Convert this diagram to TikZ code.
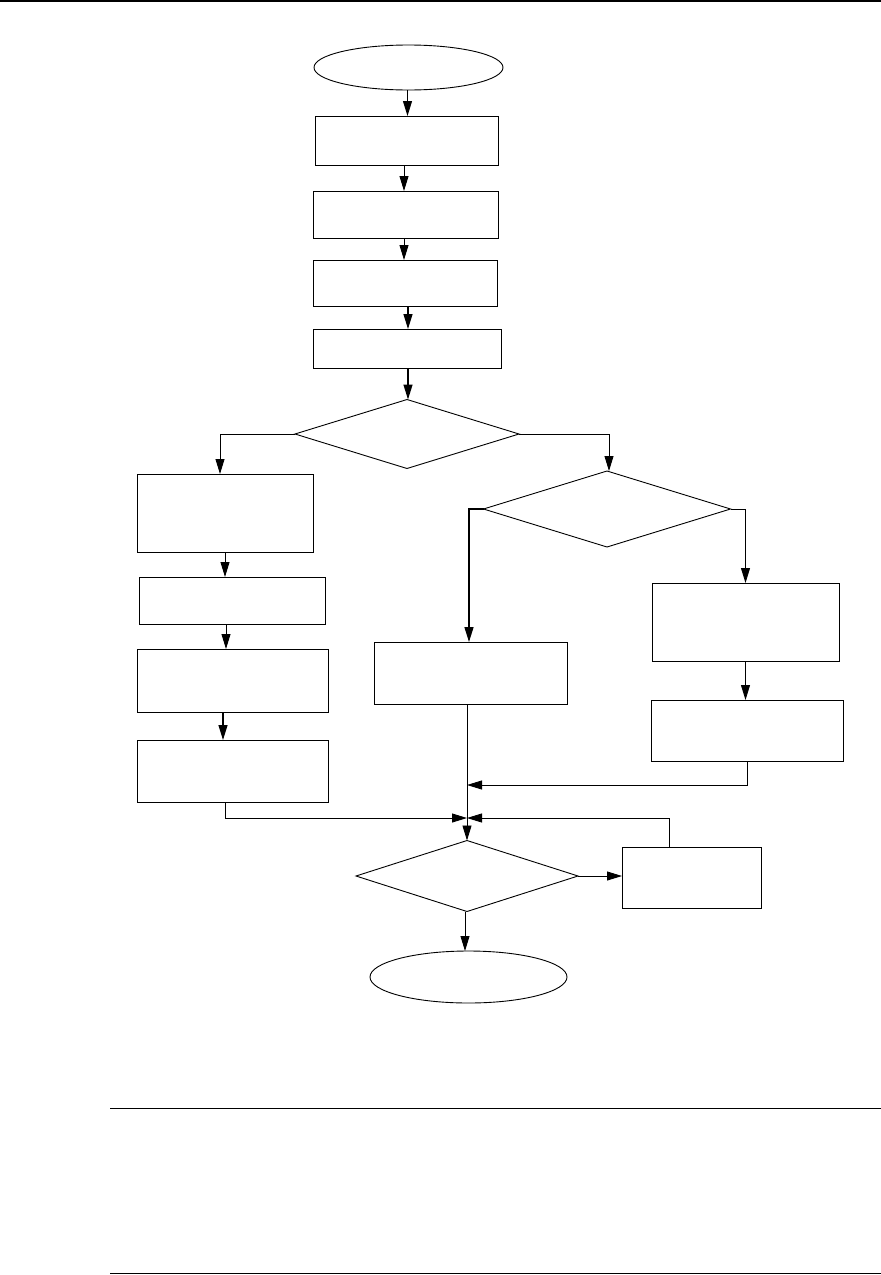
\documentclass[tikz,border=0pt]{standalone}
\usetikzlibrary{shapes.geometric,arrows.meta}
\begin{document}
\begin{tikzpicture}[x=1pt,y=-1pt,
  every path/.style={line width=0.9pt},
  boxnode/.style={draw,rectangle,inner sep=0pt,outer sep=0pt,line width=1pt},
  decnode/.style={draw,diamond,inner sep=0pt,outer sep=0pt,line width=0.9pt},
  termnode/.style={draw,ellipse,inner sep=0pt,outer sep=0pt,line width=0.9pt},
  arr/.style={line width=0.9pt,-{Triangle[length=15pt,width=9pt]}},
  rule/.style={line width=0.8pt}]
\useasboundingbox (0,0) rectangle (881,1275);
% page rules
\coordinate (tl) at (0,1);
\coordinate (tr) at (881,1);
\draw[line width=2pt] (tl) -- (tr);
\coordinate (bl1) at (110,1108);
\coordinate (br1) at (881,1108);
\draw[rule] (bl1) -- (br1);
\coordinate (bl2) at (110,1273);
\coordinate (br2) at (881,1273);
\draw[rule] (bl2) -- (br2);
% nodes
\node[termnode,minimum width=189pt,minimum height=45pt] (start) at (408.5,67.5) {};
\node[boxnode,minimum width=183pt,minimum height=49pt] (b1) at (406.5,140.5) {};
\node[boxnode,minimum width=185pt,minimum height=47pt] (b2) at (405.5,214.5) {};
\node[boxnode,minimum width=184pt,minimum height=46pt] (b3) at (405,283) {};
\node[boxnode,minimum width=188pt,minimum height=39pt] (b4) at (407,348.5) {};
\node[decnode,minimum width=224pt,minimum height=69pt] (d1) at (407,434) {};
\node[boxnode,minimum width=176pt,minimum height=78pt] (l1) at (225,513) {};
\node[boxnode,minimum width=186pt,minimum height=47pt] (l2) at (232,600.5) {};
\node[boxnode,minimum width=191pt,minimum height=63pt] (l3) at (232.5,680.5) {};
\node[boxnode,minimum width=191pt,minimum height=62pt] (l4) at (232.5,771) {};
\node[decnode,minimum width=247pt,minimum height=76pt] (d2) at (607,509) {};
\node[boxnode,minimum width=193pt,minimum height=62pt] (m) at (470.5,673) {};
\node[boxnode,minimum width=187pt,minimum height=78pt] (r1) at (745.5,622) {};
\node[boxnode,minimum width=192pt,minimum height=61pt] (r2) at (747,730.5) {};
\node[decnode,minimum width=222pt,minimum height=71pt] (d3) at (467,876) {};
\node[boxnode,minimum width=139pt,minimum height=61pt] (f) at (691.5,877.5) {};
\node[termnode,minimum width=197pt,minimum height=52pt] (end) at (468.5,977) {};
\coordinate (j1) at (467,818);
\coordinate (j2) at (467,785);
% connectors
\draw[arr] ([xshift=-1pt]start.south) -- ([xshift=-1pt]start.south |- b1.north);
\draw[arr] ([xshift=-2.5pt]b1.south) -- ([xshift=-2.5pt]b1.south |- b2.north);
\draw[arr] ([xshift=-1.5pt]b2.south) -- ([xshift=-1.5pt]b2.south |- b3.north);
\draw[arr,line width=1.3pt] ([xshift=3pt]b3.south) -- ([xshift=3pt]b3.south |- b4.north);
\draw[arr,line width=1.3pt] ([xshift=1pt]b4.south) -- ([xshift=1pt]b4.south |- d1.north);
\draw[arr] (d1.west) -| ([xshift=-5pt]l1.north);
\draw[arr] (l1.south) -- (l1.south |- l2.north);
\draw[arr] ([xshift=-6pt]l2.south) -- ([xshift=-6pt]l2.south |- l3.north);
\draw[arr,line width=1.3pt] ([xshift=-9.5pt]l3.south) -- ([xshift=-9.5pt]l3.south |- l4.north);
\draw[arr] ([xshift=-7pt]l4.south) |- (j1);
\draw[arr] (d1.east) -| ([xshift=2pt]d2.north);
\draw[arr,line width=1.5pt] (d2.west) -| ([xshift=-1.5pt]m.north);
\draw[arr] (d2.east) -| (r1.north);
\draw[arr] (r1.south) -- (r1.south |- r2.north);
\draw[arr] (r2.south) |- (j2);
\draw[arr] (m.south -| j1) -- (d3.north);
\draw[arr] ([xshift=-22.5pt]f.north) |- (j1);
\draw[arr] (d3.east) -- (d3.east -| f.west);
\draw[arr] ([xshift=-2pt]d3.south) -- ([xshift=-2pt]d3.south |- end.north);
\end{tikzpicture}
\end{document}
